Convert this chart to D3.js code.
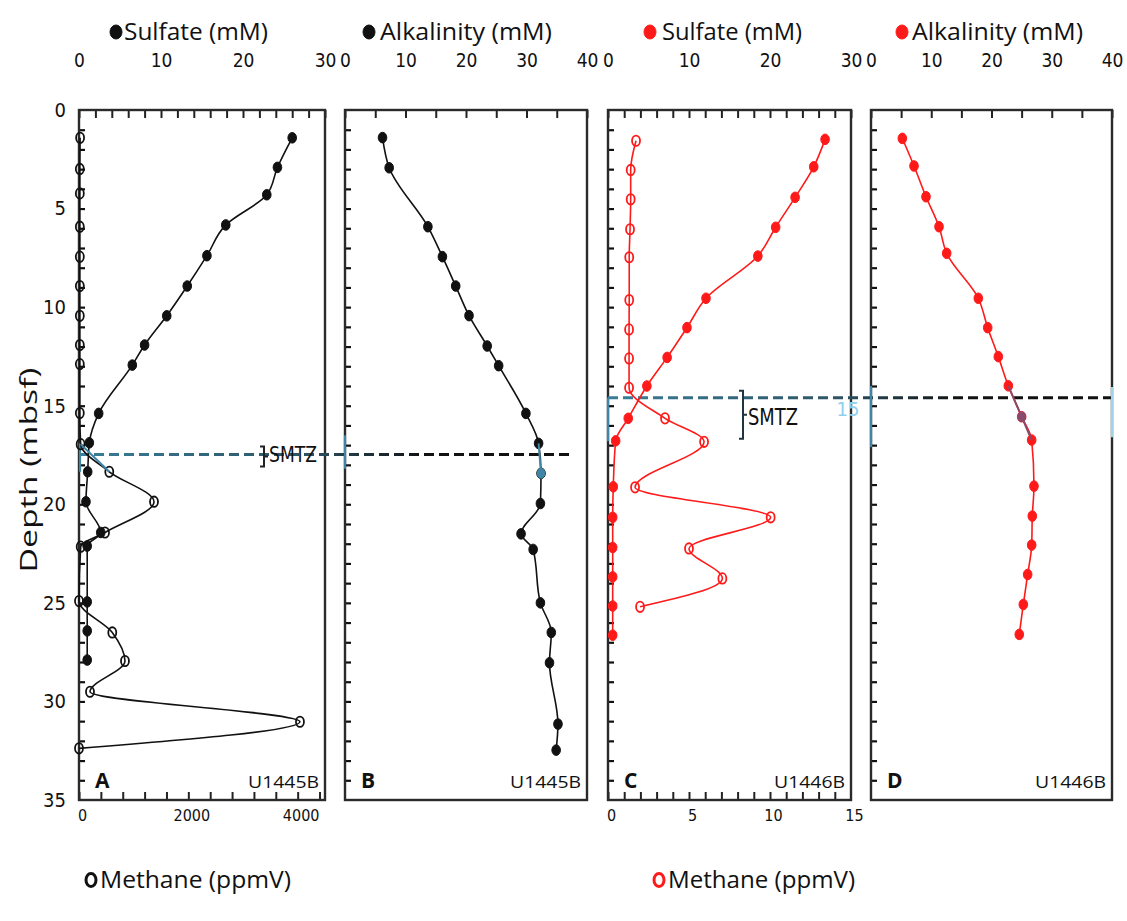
<!DOCTYPE html>
<html>
<head>
<meta charset="utf-8">
<script src="https://cdn.jsdelivr.net/npm/d3@7/dist/d3.min.js"></script>
<style>
  body { margin: 0; background: #fff; }
  svg { display: block; }
</style>
</head>
<body>
<div id="chart"></div>
<script>
// ---- data (depth in mbsf) ----
const depthSulfA = [1.41, 2.91, 4.30, 5.83, 7.39, 8.93, 10.44, 11.92, 12.94, 15.39, 16.88, 18.35, 19.87, 21.43, 22.12, 24.95, 26.42, 27.9];
const sulfA = [26.0, 24.2, 22.9, 17.9, 15.6, 13.2, 10.7, 8.0, 6.5, 2.4, 1.26, 1.06, 0.85, 2.65, 1.0, 1.0, 1.0, 1.0];

const depthMethA = [1.41, 2.99, 4.23, 5.92, 7.44, 8.93, 10.44, 11.92, 12.89, 15.37, 16.95, 18.35, 19.87, 21.43, 22.15, 24.91, 26.5, 27.95, 29.51, 31.03, 32.38];
const methA = [20, 15, 15, 15, 15, 15, 15, 15, 15, 15, 30, 554, 1372, 476, 31, 0, 609, 841, 201, 4042, 0];

const depthAlkB = [1.4, 2.93, 5.92, 7.44, 8.93, 10.43, 11.97, 12.97, 15.39, 16.91, 18.43, 19.96, 21.5, 22.29, 25.0, 26.5, 28.04, 31.15, 32.47];
const alkB = [6.2, 7.3, 13.7, 16.1, 18.3, 20.5, 23.5, 25.4, 29.9, 32.0, 32.4, 32.3, 29.1, 31.1, 32.3, 34.1, 33.8, 35.2, 34.9];

const depthSulfC = [1.49, 2.88, 4.43, 5.95, 7.41, 9.55, 11.04, 12.55, 14.0, 15.64, 16.78, 19.11, 20.66, 22.19, 23.68, 25.16, 26.64];
const sulfC = [26.8, 25.4, 23.1, 20.7, 18.5, 12.1, 9.75, 7.3, 4.8, 2.5, 0.95, 0.65, 0.58, 0.58, 0.58, 0.58, 0.58];

const depthMethC = [1.56, 3.04, 4.53, 6.05, 7.47, 9.64, 11.13, 12.6, 14.09, 15.64, 16.83, 19.14, 20.66, 22.24, 23.76, 25.2];
const methC = [1.73, 1.40, 1.40, 1.36, 1.31, 1.31, 1.30, 1.30, 1.30, 3.52, 5.93, 1.67, 10.04, 5.0, 7.06, 1.98];

const depthAlkD = [1.44, 2.84, 4.4, 5.92, 7.27, 9.55, 11.04, 12.51, 13.99, 15.56, 16.74, 19.08, 20.6, 22.07, 23.56, 25.08, 26.6];
const alkD = [5.2, 7.14, 9.13, 11.29, 12.56, 17.81, 19.37, 21.13, 22.79, 25.01, 26.67, 27.05, 26.77, 26.67, 26.0, 25.28, 24.61];

const smtzU1445 = 17.47;
const smtzU1446 = 14.59;

const depthLabels = [0, 5, 10, 15, 20, 25, 30, 35];
const sulfLabels = [0, 10, 20, 30];
const alkLabels = [0, 10, 20, 30, 40];
const methALabels = [0, 2000, 4000];
const methCLabels = [0, 5, 10, 15];

// ---- layout ----
const W = 1127, H = 921;
const RED = '#ff1a1a', BLACK = '#111', TEAL = '#3f86a6';
const narrow = '"Liberation Sans Narrow", "DejaVu Sans Condensed", sans-serif';
const sans = '"Open Sans", sans-serif';

const svg = d3.select('#chart').append('svg').attr('width', W).attr('height', H);

const y = d3.scaleLinear().domain([0, 35]).range([110, 800]);

const panels = [
  { id: 'A', x0: 79, x1: 325, top: [0, 30], topStep: 2, topLabels: sulfLabels, bottom: [0, 4500], bottomStep: 400, bottomLabels: methALabels, site: 'U1445B' },
  { id: 'B', x0: 345, x1: 587, top: [0, 40], topStep: 5, topLabels: alkLabels, site: 'U1445B' },
  { id: 'C', x0: 608, x1: 851, top: [0, 30], topStep: 2, topLabels: sulfLabels, bottom: [0, 15], bottomStep: 1, bottomLabels: methCLabels, site: 'U1446B' },
  { id: 'D', x0: 871, x1: 1112, top: [0, 40], topStep: 5, topLabels: alkLabels, site: 'U1446B' }
];

panels.forEach(p => {
  p.xTop = d3.scaleLinear().domain(p.top).range([p.x0, p.x1]);
  if (p.bottom) p.xBot = d3.scaleLinear().domain(p.bottom).range([p.x0, p.x1]);
});
const [pA, pB, pC, pD] = panels;

// gradients for the SMTZ dashed lines (teal fading to black)
const defs = svg.append('defs');
function dashGrad(id, xa, xb) {
  const g = defs.append('linearGradient').attr('id', id)
    .attr('gradientUnits', 'userSpaceOnUse')
    .attr('x1', xa).attr('x2', xb).attr('y1', 0).attr('y2', 0);
  g.append('stop').attr('offset', '0%').attr('stop-color', '#3a7d98');
  g.append('stop').attr('offset', '45%').attr('stop-color', '#2d5566');
  g.append('stop').attr('offset', '70%').attr('stop-color', '#111');
  g.append('stop').attr('offset', '100%').attr('stop-color', '#111');
}
dashGrad('smtz1', 79, 573);
dashGrad('smtz2', 608, 1112);

// ---- frames and axes ----
panels.forEach(p => {
  const g = svg.append('g');

  // top ticks (inward)
  g.append('g').attr('transform', `translate(0,${y(0)})`)
    .call(d3.axisTop(p.xTop).tickValues(d3.range(p.top[0], p.top[1] + 0.001, p.topStep)).tickSizeInner(-8).tickSizeOuter(0).tickFormat(''))
    .call(s => s.select('.domain').remove())
    .call(s => s.selectAll('line').attr('stroke', '#222').attr('stroke-width', 2));

  // top labels
  g.append('g').attr('transform', `translate(0,60)`)
    .call(d3.axisTop(p.xTop).tickValues(p.topLabels).tickSize(0).tickPadding(0).tickFormat(d3.format('d')))
    .call(s => s.select('.domain').remove())
    .call(s => s.selectAll('text').attr('dy', '0.35em').attr('font-family', narrow).attr('font-size', 19).attr('fill', '#111'));

  // depth ticks on left side (inward)
  g.append('g').attr('transform', `translate(${p.x0},0)`)
    .call(d3.axisLeft(y).tickValues(d3.range(1, 35, 1)).tickSizeInner(-6).tickSizeOuter(0).tickFormat(''))
    .call(s => s.select('.domain').remove())
    .call(s => s.selectAll('line').attr('stroke', '#111').attr('stroke-width', 2.2));

  // bottom axis
  if (p.xBot) {
    g.append('g').attr('transform', `translate(0,${y(35)})`)
      .call(d3.axisBottom(p.xBot).tickValues(d3.range(p.bottom[0], p.bottom[1] - 0.001, p.bottomStep)).tickSizeInner(-8).tickSizeOuter(0).tickFormat(''))
      .call(s => s.select('.domain').remove())
      .call(s => s.selectAll('line').attr('stroke', '#222').attr('stroke-width', 2));
    g.append('g').attr('transform', `translate(3,815)`)
      .call(d3.axisBottom(p.xBot).tickValues(p.bottomLabels).tickSize(0).tickPadding(0).tickFormat(d3.format('d')))
      .call(s => s.select('.domain').remove())
      .call(s => s.selectAll('text').attr('dy', '0.35em').attr('font-family', narrow).attr('font-size', 16).attr('fill', '#111'));
  }

  // frame
  g.append('rect')
    .attr('x', p.x0).attr('y', y(0))
    .attr('width', p.x1 - p.x0).attr('height', y(35) - y(0))
    .attr('fill', 'none').attr('stroke', '#2a2a2a').attr('stroke-width', 2.4);

  // panel letter and site
  g.append('text').attr('x', p.x0 + 16).attr('y', 788)
    .attr('font-family', sans).attr('font-weight', 700).attr('font-size', 21)
    .attr('fill', '#111').text(p.id);
  g.append('text').attr('x', p.x1 - 6).attr('y', 788).attr('text-anchor', 'end')
    .attr('font-family', sans).attr('font-size', 17).attr('fill', '#111')
    .attr('textLength', 71).attr('lengthAdjust', 'spacingAndGlyphs').text(p.site);
});

// depth labels (panel A only)
svg.append('g').attr('transform', `translate(66,0)`)
  .call(d3.axisLeft(y).tickValues(depthLabels).tickSize(0).tickPadding(0))
  .call(s => s.select('.domain').remove())
  .call(s => s.selectAll('text').attr('font-family', narrow).attr('font-size', 20).attr('fill', '#111'));

svg.append('text')
  .attr('transform', `translate(37,470) rotate(-90)`)
  .attr('text-anchor', 'middle')
  .attr('font-family', sans).attr('font-size', 24).attr('fill', '#111')
  .attr('textLength', 205).attr('lengthAdjust', 'spacingAndGlyphs')
  .text('Depth (mbsf)');

// ---- SMTZ markers ----
svg.append('line')
  .attr('x1', pA.x0).attr('x2', 573).attr('y1', y(smtzU1445)).attr('y2', y(smtzU1445))
  .attr('stroke', 'url(#smtz1)').attr('stroke-width', 3).attr('stroke-dasharray', '10,5');
svg.append('line')
  .attr('x1', pC.x0).attr('x2', pD.x1).attr('y1', y(smtzU1446)).attr('y2', y(smtzU1446))
  .attr('stroke', 'url(#smtz2)').attr('stroke-width', 3).attr('stroke-dasharray', '10,5');

function bracket(x, ya, yb, col) {
  const ym = (ya + yb) / 2;
  svg.append('path')
    .attr('d', `M${x - 4},${ya} L${x},${ya} L${x},${yb} L${x - 4},${yb} M${x},${ym} L${x + 4},${ym}`)
    .attr('fill', 'none').attr('stroke', col).attr('stroke-width', 2);
}
bracket(264, y(smtzU1445) - 8, y(smtzU1445) + 12, '#222');
svg.append('text').attr('x', 269).attr('y', y(smtzU1445) + 8)
  .attr('font-family', narrow).attr('font-size', 21).attr('fill', '#111')
  .attr('textLength', 48).attr('lengthAdjust', 'spacingAndGlyphs').text('SMTZ');

bracket(743, y(smtzU1446) - 7, y(smtzU1446) + 41, '#1e3440');
svg.append('text').attr('x', 748).attr('y', y(smtzU1446) + 27)
  .attr('font-family', narrow).attr('font-size', 23).attr('fill', '#111')
  .attr('textLength', 50).attr('lengthAdjust', 'spacingAndGlyphs').text('SMTZ');

// light blue marks left over around the SMTZ
const teal = [
  [pA.x0 + 1, y(16.9), y(18.35)],
  [pB.x0, y(16.5), y(18.2)],
  [pC.x0, y(smtzU1446), y(16.8)],
  [pD.x0, y(14.0), y(17.1)],
  [pD.x1, y(14.05), y(16.6)]
];
svg.selectAll('.tealmark').data(teal).join('line')
  .attr('class', 'tealmark')
  .attr('x1', d => d[0]).attr('x2', d => d[0]).attr('y1', d => d[1]).attr('y2', d => d[2])
  .attr('stroke', (d, i) => i === 4 ? '#9fd3ea' : TEAL).attr('stroke-width', 2.2);
svg.append('text').attr('x', 848).attr('y', y(smtzU1446) + 18)
  .attr('text-anchor', 'middle')
  .attr('font-family', narrow).attr('font-size', 20).attr('fill', '#8fd0ef').text('15');

// ---- profiles ----
const curve = d3.curveMonotoneY;

function profile(depths, vals, xs, col, open, lineCol) {
  const pts = depths.map((d, i) => [xs(vals[i]), y(d)]);
  svg.append('path')
    .attr('d', d3.line().curve(curve)(pts))
    .attr('fill', 'none').attr('stroke', lineCol || col).attr('stroke-width', 1.6);
  svg.append('g').selectAll('ellipse').data(pts).join('ellipse')
    .attr('cx', d => d[0]).attr('cy', d => d[1])
    .attr('rx', open ? 4 : 4.3).attr('ry', open ? 5.2 : 5.3)
    .attr('fill', open ? 'none' : col)
    .attr('stroke', col).attr('stroke-width', open ? 1.8 : 1);
  return pts;
}

function overlaySegment(pts, i0, i1, col, dots) {
  svg.append('path')
    .attr('d', d3.line().curve(curve)(pts.slice(i0, i1 + 1)))
    .attr('fill', 'none').attr('stroke', col).attr('stroke-width', 2);
  if (dots) {
    svg.append('g').selectAll('ellipse').data(dots.map(i => pts[i])).join('ellipse')
      .attr('cx', d => d[0]).attr('cy', d => d[1]).attr('rx', 4.3).attr('ry', 5.3)
      .attr('fill', col);
  }
}

// panel A
const methAPts = profile(depthMethA, methA, pA.xBot, BLACK, true);
profile(depthSulfA, sulfA, pA.xTop, BLACK, false);
overlaySegment(methAPts, 10, 11, TEAL);

// panel B
const alkBPts = profile(depthAlkB, alkB, pB.xTop, BLACK, false);
overlaySegment(alkBPts, 9, 10, TEAL, [10]);

// panel C
profile(depthMethC, methC, pC.xBot, RED, true);
profile(depthSulfC, sulfC, pC.xTop, RED, false);

// panel D
const alkDPts = profile(depthAlkD, alkD, pD.xTop, RED, false);
overlaySegment(alkDPts, 8, 10, '#8a4a6c', [9]);

// ---- series titles ----
function legend(cx, cy, tx, tlen, label, col, open, size) {
  svg.append('ellipse').attr('cx', cx).attr('cy', cy)
    .attr('rx', open ? 5 : 6).attr('ry', open ? 6.5 : 7)
    .attr('fill', open ? 'none' : col).attr('stroke', col).attr('stroke-width', open ? 3 : 1);
  svg.append('text').attr('x', tx).attr('y', cy + 8)
    .attr('font-family', sans).attr('font-size', size).attr('fill', '#111')
    .attr('textLength', tlen).attr('lengthAdjust', 'spacingAndGlyphs').text(label);
}
legend(116, 32, 124, 144, 'Sulfate (mM)', BLACK, false, 24);
legend(369, 32, 380, 172, 'Alkalinity (mM)', BLACK, false, 24);
legend(650, 32, 662, 140, 'Sulfate (mM)', RED, false, 24);
legend(902, 32, 912, 171, 'Alkalinity (mM)', RED, false, 24);
legend(91, 880, 100, 191, 'Methane (ppmV)', BLACK, true, 24);
legend(659, 880, 668, 187, 'Methane (ppmV)', RED, true, 24);
</script>
</body>
</html>
